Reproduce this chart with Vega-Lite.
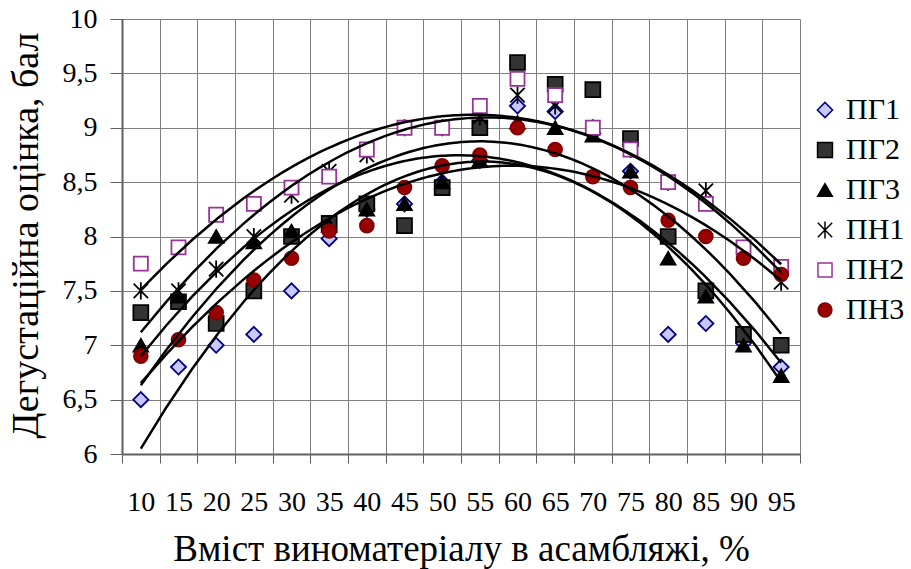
{
  "$schema": "https://vega.github.io/schema/vega-lite/v6.json",
  "autosize": "none",
  "width": 678,
  "height": 435,
  "padding": {"left": 122, "top": 19, "right": 111, "bottom": 115},
  "background": "white",
  "datasets": {
    "pts": [
      {"s":"ПГ1","x":10,"y":6.5},{"s":"ПГ1","x":15,"y":6.8},{"s":"ПГ1","x":20,"y":7.0},{"s":"ПГ1","x":25,"y":7.1},{"s":"ПГ1","x":30,"y":7.5},{"s":"ПГ1","x":35,"y":7.98},{"s":"ПГ1","x":40,"y":8.25},{"s":"ПГ1","x":45,"y":8.3},{"s":"ПГ1","x":50,"y":8.5},{"s":"ПГ1","x":55,"y":8.7},{"s":"ПГ1","x":60,"y":9.2},{"s":"ПГ1","x":65,"y":9.15},{"s":"ПГ1","x":70,"y":8.95},{"s":"ПГ1","x":75,"y":8.6},{"s":"ПГ1","x":80,"y":7.1},{"s":"ПГ1","x":85,"y":7.2},{"s":"ПГ1","x":90,"y":7.02},{"s":"ПГ1","x":95,"y":6.8},
      {"s":"ПГ2","x":10,"y":7.3},{"s":"ПГ2","x":15,"y":7.4},{"s":"ПГ2","x":20,"y":7.2},{"s":"ПГ2","x":25,"y":7.5},{"s":"ПГ2","x":30,"y":8.0},{"s":"ПГ2","x":35,"y":8.12},{"s":"ПГ2","x":40,"y":8.3},{"s":"ПГ2","x":45,"y":8.1},{"s":"ПГ2","x":50,"y":8.45},{"s":"ПГ2","x":55,"y":9.0},{"s":"ПГ2","x":60,"y":9.6},{"s":"ПГ2","x":65,"y":9.4},{"s":"ПГ2","x":70,"y":9.35},{"s":"ПГ2","x":75,"y":8.9},{"s":"ПГ2","x":80,"y":8.0},{"s":"ПГ2","x":85,"y":7.5},{"s":"ПГ2","x":90,"y":7.1},{"s":"ПГ2","x":95,"y":7.0},
      {"s":"ПГ3","x":10,"y":7.0},{"s":"ПГ3","x":15,"y":7.45},{"s":"ПГ3","x":20,"y":8.0},{"s":"ПГ3","x":25,"y":7.95},{"s":"ПГ3","x":30,"y":8.05},{"s":"ПГ3","x":35,"y":8.1},{"s":"ПГ3","x":40,"y":8.25},{"s":"ПГ3","x":45,"y":8.3},{"s":"ПГ3","x":50,"y":8.5},{"s":"ПГ3","x":55,"y":8.7},{"s":"ПГ3","x":60,"y":9.05},{"s":"ПГ3","x":65,"y":9.0},{"s":"ПГ3","x":70,"y":8.93},{"s":"ПГ3","x":75,"y":8.6},{"s":"ПГ3","x":80,"y":7.8},{"s":"ПГ3","x":85,"y":7.45},{"s":"ПГ3","x":90,"y":7.0},{"s":"ПГ3","x":95,"y":6.72},
      {"s":"ПН1","x":10,"y":7.5},{"s":"ПН1","x":15,"y":7.5},{"s":"ПН1","x":20,"y":7.7},{"s":"ПН1","x":25,"y":8.0},{"s":"ПН1","x":30,"y":8.38},{"s":"ПН1","x":35,"y":8.6},{"s":"ПН1","x":40,"y":8.75},{"s":"ПН1","x":45,"y":9.0},{"s":"ПН1","x":50,"y":9.0},{"s":"ПН1","x":55,"y":9.1},{"s":"ПН1","x":60,"y":9.3},{"s":"ПН1","x":65,"y":9.2},{"s":"ПН1","x":70,"y":9.0},{"s":"ПН1","x":75,"y":8.8},{"s":"ПН1","x":80,"y":8.5},{"s":"ПН1","x":85,"y":8.42},{"s":"ПН1","x":90,"y":7.85},{"s":"ПН1","x":95,"y":7.58},
      {"s":"ПН2","x":10,"y":7.75},{"s":"ПН2","x":15,"y":7.9},{"s":"ПН2","x":20,"y":8.2},{"s":"ПН2","x":25,"y":8.3},{"s":"ПН2","x":30,"y":8.45},{"s":"ПН2","x":35,"y":8.55},{"s":"ПН2","x":40,"y":8.8},{"s":"ПН2","x":45,"y":9.0},{"s":"ПН2","x":50,"y":9.0},{"s":"ПН2","x":55,"y":9.2},{"s":"ПН2","x":60,"y":9.45},{"s":"ПН2","x":65,"y":9.3},{"s":"ПН2","x":70,"y":9.0},{"s":"ПН2","x":75,"y":8.8},{"s":"ПН2","x":80,"y":8.5},{"s":"ПН2","x":85,"y":8.3},{"s":"ПН2","x":90,"y":7.9},{"s":"ПН2","x":95,"y":7.72},
      {"s":"ПН3","x":10,"y":6.9},{"s":"ПН3","x":15,"y":7.05},{"s":"ПН3","x":20,"y":7.3},{"s":"ПН3","x":25,"y":7.6},{"s":"ПН3","x":30,"y":7.8},{"s":"ПН3","x":35,"y":8.05},{"s":"ПН3","x":40,"y":8.1},{"s":"ПН3","x":45,"y":8.45},{"s":"ПН3","x":50,"y":8.65},{"s":"ПН3","x":55,"y":8.75},{"s":"ПН3","x":60,"y":9.0},{"s":"ПН3","x":65,"y":8.8},{"s":"ПН3","x":70,"y":8.55},{"s":"ПН3","x":75,"y":8.45},{"s":"ПН3","x":80,"y":8.15},{"s":"ПН3","x":85,"y":8.0},{"s":"ПН3","x":90,"y":7.8},{"s":"ПН3","x":95,"y":7.65}
    ]
  },
  "data": {"name": "pts"},
  "resolve": {"axis": {"x": "independent"}},
  "layer": [
    {
      "mark": {"type": "point", "opacity": 1, "strokeWidth": 1.8},
      "encoding": {
        "x": {
          "field": "x", "type": "quantitative",
          "scale": {"domain": [7.5, 97.5], "nice": false, "zero": false},
          "axis": {
            "orient": "bottom",
            "values": [10,15,20,25,30,35,40,45,50,55,60,65,70,75,80,85,90,95],
            "grid": false, "ticks": false, "tickSize": 0, "domain": false,
            "labelPadding": 56, "labelBaseline": "alphabetic", "labelFontSize": 28,
            "labelOverlap": false, "labelFlush": false,
            "title": "Вміст виноматеріалу в асамбляжі, %",
            "titleFontSize": 37, "titleY": 106, "titleBaseline": "alphabetic"
          }
        },
        "y": {
          "field": "y", "type": "quantitative",
          "scale": {"domain": [6, 10], "nice": false, "zero": false},
          "axis": {
            "values": [6,6.5,7,7.5,8,8.5,9,9.5,10],
            "labelExpr": "replace(toString(datum.value), '.', ',')",
            "grid": true, "tickSize": 12, "labelPadding": 13, "labelFontSize": 28,
            "title": "Дегустаційна оцінка, бал",
            "titleFontSize": 38, "titleX": -85, "titleY": 216, "titleBaseline": "alphabetic", "titleAngle": -90
          }
        },
        "shape": {
          "field": "s", "type": "nominal",
          "scale": {"domain": ["ПГ1","ПГ2","ПГ3","ПН1","ПН2","ПН3"], "range": ["diamond","square","triangle-up","M-1,-1L1,1M-1,1L1,-1M0,-1.2L0,1.2","square","circle"]},
          "legend": {"title": null, "orient": "none", "legendX": 688, "legendY": 76, "labelFont": "Liberation Serif", "labelFontSize": 30, "labelOffset": 6, "rowPadding": 10, "encode": {"labels": {"update": {"font": {"value": "Liberation Serif"}, "fontSize": {"value": 30}, "fill": {"value": "#000000"}}}, "symbols": {"update": {"size": {"value": 110}}}}}
        },
        "fill": {
          "field": "s", "type": "nominal",
          "scale": {"domain": ["ПГ1","ПГ2","ПГ3","ПН1","ПН2","ПН3"], "range": ["#c8c8ff","#333333","#000000","transparent","#ffffff","#990000"]},
          "legend": {"title": null, "orient": "none", "legendX": 688, "legendY": 76, "labelFont": "Liberation Serif", "labelFontSize": 30, "labelOffset": 6, "rowPadding": 10, "encode": {"labels": {"update": {"font": {"value": "Liberation Serif"}, "fontSize": {"value": 30}, "fill": {"value": "#000000"}}}, "symbols": {"update": {"size": {"value": 110}}}}}
        },
        "stroke": {
          "field": "s", "type": "nominal",
          "scale": {"domain": ["ПГ1","ПГ2","ПГ3","ПН1","ПН2","ПН3"], "range": ["#000080","#000000","#000000","#000000","#993399","#800000"]},
          "legend": {"title": null, "orient": "none", "legendX": 688, "legendY": 76, "labelFont": "Liberation Serif", "labelFontSize": 30, "labelOffset": 6, "rowPadding": 10, "encode": {"labels": {"update": {"font": {"value": "Liberation Serif"}, "fontSize": {"value": 30}, "fill": {"value": "#000000"}}}, "symbols": {"update": {"size": {"value": 110}}}}}
        },
        "size": {
          "field": "s", "type": "nominal",
          "scale": {"domain": ["ПГ1","ПГ2","ПГ3","ПН1","ПН2","ПН3"], "range": [230,190,220,200,200,380]},
          "legend": {"title": null, "orient": "none", "legendX": 688, "legendY": 76, "labelFont": "Liberation Serif", "labelFontSize": 30, "labelOffset": 6, "rowPadding": 10, "encode": {"labels": {"update": {"font": {"value": "Liberation Serif"}, "fontSize": {"value": 30}, "fill": {"value": "#000000"}}}, "symbols": {"update": {"size": {"value": 110}}}}}
        }
      }
    },
    {
      "transform": [
        {"regression": "y", "on": "x", "groupby": ["s"], "method": "poly", "order": 2}
      ],
      "mark": {"type": "line", "color": "black", "strokeWidth": 2.5},
      "encoding": {
        "x": {
          "field": "x", "type": "quantitative",
          "axis": {
            "orient": "bottom",
            "values": [7.5,12.5,17.5,22.5,27.5,32.5,37.5,42.5,47.5,52.5,57.5,62.5,67.5,72.5,77.5,82.5,87.5,92.5,97.5],
            "labels": false, "grid": true, "ticks": true, "tickSize": 9, "domain": true, "title": null
          }
        },
        "y": {"field": "y", "type": "quantitative"},
        "detail": {"field": "s", "type": "nominal"}
      }
    }
  ],
  "config": {
    "view": {"stroke": null},
    "font": "Liberation Serif",
    "axis": {
      "labelFont": "Liberation Serif", "titleFont": "Liberation Serif",
      "labelColor": "#000000", "titleColor": "#000000", "titleFontWeight": "normal",
      "gridColor": "#808080", "gridOpacity": 1, "gridWidth": 1,
      "domainColor": "#606060", "domainWidth": 2, "tickColor": "#606060", "tickWidth": 1
    },
    "legend": {
      "labelFont": "Liberation Serif", "labelFontSize": 30, "labelColor": "#000000", "padding": 0, "labelOffset": 6, "rowPadding": 10
    }
  }
}
